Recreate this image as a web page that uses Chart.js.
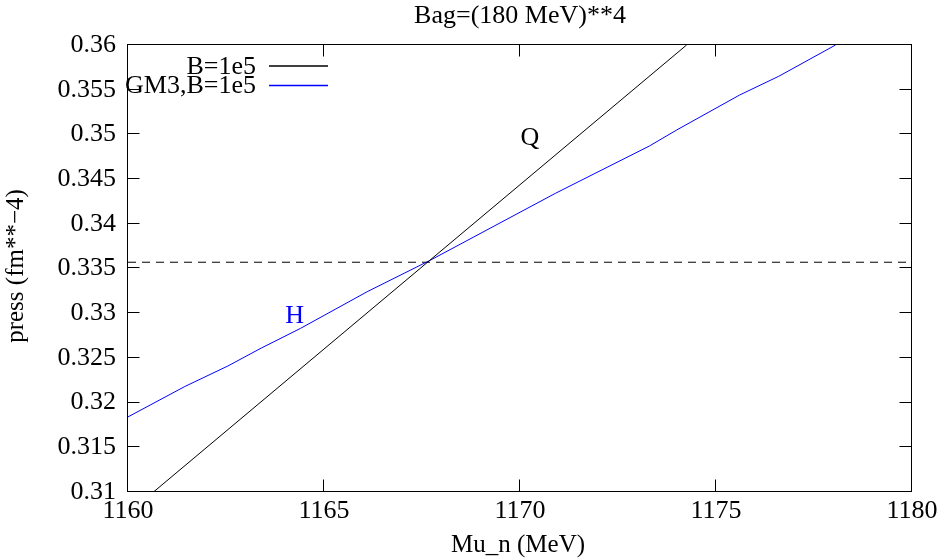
<!DOCTYPE html>
<html>
<head>
<meta charset="utf-8">
<script src="https://cdn.jsdelivr.net/npm/chart.js@4.4.1/dist/chart.umd.min.js"></script>
<style>
  html, body { margin: 0; padding: 0; background: #fff; }
  #wrap { width: 946px; height: 560px; }
</style>
</head>
<body>
<div id="wrap"><canvas id="chart" width="946" height="560"></canvas></div>
<script>
// --- DATA ---
const quarkMu = [1160.65, 1174.25];
const quarkP = [0.310, 0.360];

const hadronMu = [1160.0, 1161.45, 1162.55, 1163.4, 1164.4, 1166.1, 1167.7, 1170.9, 1173.3, 1174.0, 1175.6, 1176.6, 1178.05];
const hadronP = [0.3184, 0.3218, 0.3241, 0.3261, 0.3283, 0.3324, 0.3359, 0.3434, 0.3487, 0.3505, 0.3544, 0.3565, 0.3600];

const transMu = [1160, 1180];
const transP = [0.3357, 0.3357];

const xTicks = [1160, 1165, 1170, 1175, 1180];
const yTicks = [0.31, 0.315, 0.32, 0.325, 0.33, 0.335, 0.34, 0.345, 0.35, 0.355, 0.36];

const QUARK_COLOR = '#000000';
const HADRON_COLOR = '#0000ff';
const FONT = '"Liberation Serif", "DejaVu Serif", serif';
const toPoints = (xs, ys) => xs.map((x, i) => ({ x: x, y: ys[i] }));

// gnuplot-ish frame, inside ticks, legend and text labels
const gnuplotDecor = {
    id: 'gnuplotDecor',
    afterDraw(chart) {
        const { ctx, chartArea: a, scales } = chart;
        const crisp = v => Math.round(v) - 0.5;
        const L = crisp(a.left), R = crisp(a.right), T = crisp(a.top), B = crisp(a.bottom);
        ctx.save();
        ctx.strokeStyle = '#000';
        ctx.lineWidth = 1;
        ctx.strokeRect(L, T, R - L, B - T);

        const tick = 12;
        ctx.beginPath();
        xTicks.forEach(v => {
            const px = crisp(scales.x.getPixelForValue(v));
            ctx.moveTo(px, B); ctx.lineTo(px, B - tick);
            ctx.moveTo(px, T); ctx.lineTo(px, T + tick);
        });
        yTicks.forEach(v => {
            const py = crisp(scales.y.getPixelForValue(v));
            ctx.moveTo(L, py); ctx.lineTo(L + tick, py);
            ctx.moveTo(R, py); ctx.lineTo(R - tick, py);
        });
        ctx.stroke();

        // legend
        ctx.font = '26px ' + FONT;
        ctx.textAlign = 'right';
        ctx.textBaseline = 'middle';
        const legendRows = [
            { label: chart.data.datasets[0].label, color: QUARK_COLOR },
            { label: chart.data.datasets[1].label, color: HADRON_COLOR }
        ];
        legendRows.forEach((row, i) => {
            const y = 66 + i * 19.5;
            ctx.fillStyle = '#000';
            ctx.fillText(row.label, 256, y + 1);
            ctx.strokeStyle = row.color;
            ctx.lineWidth = 1.3;
            ctx.beginPath();
            ctx.moveTo(269, y); ctx.lineTo(328, y);
            ctx.stroke();
        });
        ctx.lineWidth = 1;

        // titles and phase labels
        ctx.textAlign = 'center';
        ctx.fillStyle = '#000';
        ctx.fillText('Bag=(180 MeV)**4', 520, 16);
        ctx.fillText('Q', scales.x.getPixelForValue(1170.25), scales.y.getPixelForValue(0.3496));
        ctx.fillStyle = HADRON_COLOR;
        ctx.fillText('H', scales.x.getPixelForValue(1164.25), scales.y.getPixelForValue(0.3297));

        ctx.font = '25px ' + FONT;
        ctx.fillStyle = '#000';
        ctx.fillText('Mu_n (MeV)', 518, 545);
        ctx.translate(16, 266);
        ctx.rotate(-Math.PI / 2);
        ctx.fillText('press (fm**\u22124)', 0, 0);
        ctx.restore();
    }
};

window.addEventListener('load', () => {
    const ctx = document.getElementById('chart').getContext('2d');

    new Chart(ctx, {
        type: 'scatter',
        data: {
            datasets: [
                {
                    label: 'B=1e5',
                    data: toPoints(quarkMu, quarkP),
                    showLine: true,
                    borderColor: QUARK_COLOR,
                    borderWidth: 1,
                    pointRadius: 0
                },
                {
                    label: 'GM3,B=1e5',
                    data: toPoints(hadronMu, hadronP),
                    showLine: true,
                    borderColor: HADRON_COLOR,
                    borderWidth: 1,
                    pointRadius: 0
                },
                {
                    label: '',
                    data: toPoints(transMu, transP),
                    showLine: true,
                    borderColor: '#000000',
                    borderWidth: 1,
                    borderDash: [8, 6],
                    pointRadius: 0
                }
            ]
        },
        options: {
            responsive: false,
            animation: false,
            layout: { padding: { left: 0, right: 34, top: 45, bottom: 0 } },
            plugins: {
                legend: { display: false },
                tooltip: { enabled: false }
            },
            scales: {
                x: {
                    type: 'linear',
                    min: 1160,
                    max: 1180,
                    afterBuildTicks: s => { s.ticks = xTicks.map(v => ({ value: v })); },
                    afterFit: s => { s.height = 68; },
                    grid: { display: false, drawTicks: false },
                    border: { display: false },
                    ticks: {
                        padding: 4,
                        color: '#000',
                        font: { family: FONT, size: 26 },
                        callback: v => String(v)
                    }
                },
                y: {
                    type: 'linear',
                    min: 0.31,
                    max: 0.36,
                    afterBuildTicks: s => { s.ticks = yTicks.map(v => ({ value: v })); },
                    afterFit: s => { s.width = 128; },
                    grid: { display: false, drawTicks: false },
                    border: { display: false },
                    ticks: {
                        padding: 12,
                        color: '#000',
                        font: { family: FONT, size: 26 },
                        callback: v => String(+v.toFixed(3))
                    }
                }
            }
        },
        plugins: [gnuplotDecor]
    });
});
</script>
</body>
</html>
